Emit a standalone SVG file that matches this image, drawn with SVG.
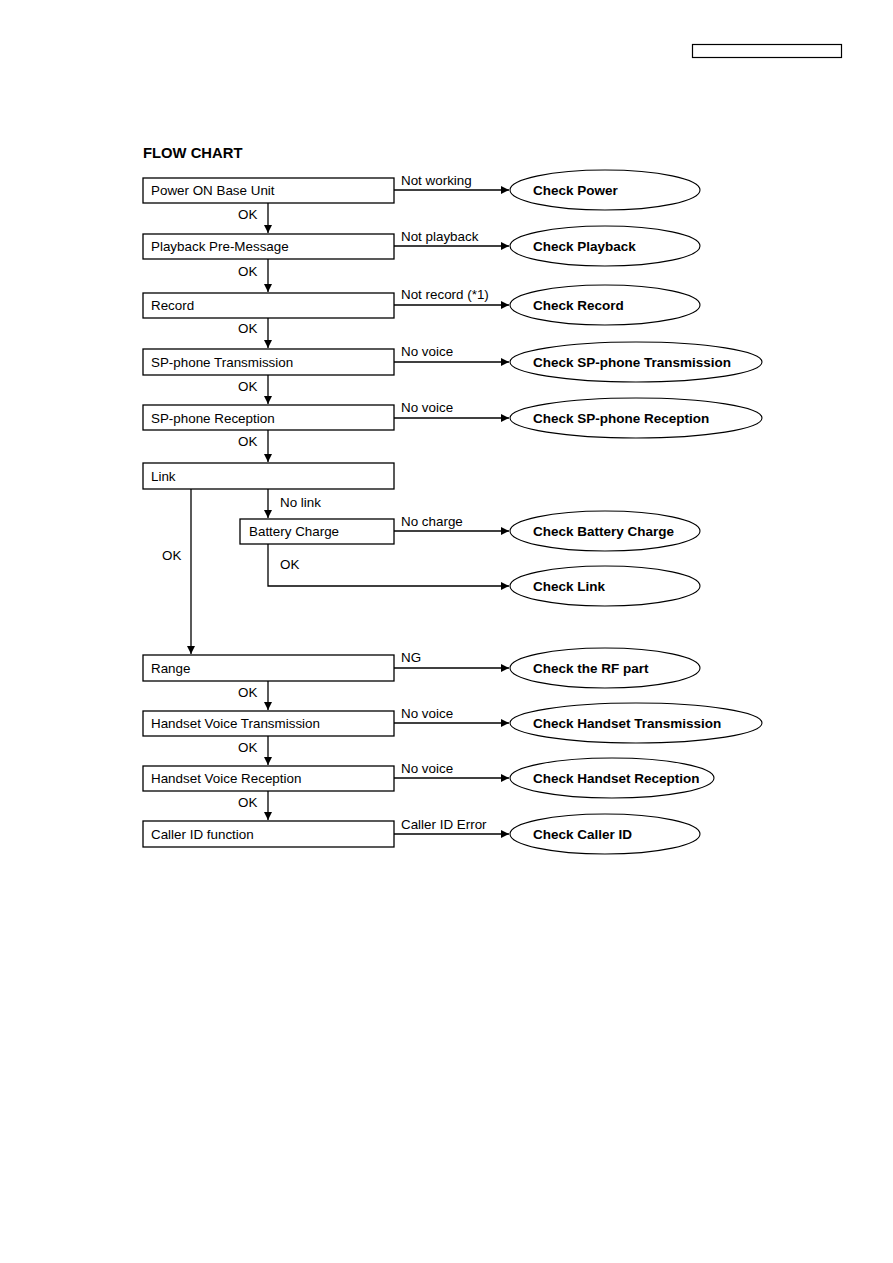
<svg xmlns="http://www.w3.org/2000/svg" width="893" height="1263" viewBox="0 0 893 1263">
<style>
.box{fill:#fff;stroke:#000;stroke-width:1.3}
.ell{fill:#fff;stroke:#000;stroke-width:1.1}
.t{font-family:"Liberation Sans",Arial,sans-serif;font-size:13.4px;fill:#000}
.b{font-family:"Liberation Sans",Arial,sans-serif;font-size:13.5px;font-weight:bold;fill:#000}
.ln{fill:none;stroke:#000;stroke-width:1.3}
</style>
<defs>
<marker id="ah" viewBox="0 0 10 10" refX="10" refY="5" markerWidth="8" markerHeight="8" markerUnits="userSpaceOnUse" orient="auto"><path d="M0,0 L10,5 L0,10 z" fill="#000"/></marker>
</defs>
<rect x="0" y="0" width="893" height="1263" fill="#fff"/>
<rect x="692.5" y="44.5" width="149" height="13" fill="none" stroke="#000" stroke-width="1.2"/>
<text x="143" y="158" class="b" style="font-size:14.8px">FLOW CHART</text>

<g id="connectors">
<path class="ln" d="M394,190 H509" marker-end="url(#ah)"/>
<path class="ln" d="M394,246 H509" marker-end="url(#ah)"/>
<path class="ln" d="M394,305 H509" marker-end="url(#ah)"/>
<path class="ln" d="M394,362 H509" marker-end="url(#ah)"/>
<path class="ln" d="M394,418 H509" marker-end="url(#ah)"/>
<path class="ln" d="M394,531 H509" marker-end="url(#ah)"/>
<path class="ln" d="M268,544 V586 H509" marker-end="url(#ah)"/>
<path class="ln" d="M394,668 H509" marker-end="url(#ah)"/>
<path class="ln" d="M394,723 H509" marker-end="url(#ah)"/>
<path class="ln" d="M394,778 H509" marker-end="url(#ah)"/>
<path class="ln" d="M394,834 H509" marker-end="url(#ah)"/>
<path class="ln" d="M268,203 V233" marker-end="url(#ah)"/>
<path class="ln" d="M268,259 V292" marker-end="url(#ah)"/>
<path class="ln" d="M268,318 V348" marker-end="url(#ah)"/>
<path class="ln" d="M268,375 V404" marker-end="url(#ah)"/>
<path class="ln" d="M268,430 V462" marker-end="url(#ah)"/>
<path class="ln" d="M268,489 V518" marker-end="url(#ah)"/>
<path class="ln" d="M191,489 V654" marker-end="url(#ah)"/>
<path class="ln" d="M268,681 V710" marker-end="url(#ah)"/>
<path class="ln" d="M268,736 V765" marker-end="url(#ah)"/>
<path class="ln" d="M268,791 V820" marker-end="url(#ah)"/>
<text x="401" y="185" class="t">Not working</text>
<text x="401" y="241" class="t">Not playback</text>
<text x="401" y="299" class="t">Not record (*1)</text>
<text x="401" y="356" class="t">No voice</text>
<text x="401" y="412" class="t">No voice</text>
<text x="401" y="526" class="t">No charge</text>
<text x="401" y="662" class="t">NG</text>
<text x="401" y="718" class="t">No voice</text>
<text x="401" y="773" class="t">No voice</text>
<text x="401" y="829" class="t">Caller ID Error</text>
<text x="238" y="219" class="t">OK</text>
<text x="238" y="276" class="t">OK</text>
<text x="238" y="333" class="t">OK</text>
<text x="238" y="391" class="t">OK</text>
<text x="238" y="446" class="t">OK</text>
<text x="280" y="507" class="t">No link</text>
<text x="280" y="569" class="t">OK</text>
<text x="162" y="560" class="t">OK</text>
<text x="238" y="697" class="t">OK</text>
<text x="238" y="752" class="t">OK</text>
<text x="238" y="807" class="t">OK</text>
</g>

<g id="n1"><rect class="box" x="143" y="178" width="251" height="25"/><text x="151" y="195" class="t">Power ON Base Unit</text></g>
<g id="n2"><rect class="box" x="143" y="234" width="251" height="25"/><text x="151" y="251" class="t">Playback Pre-Message</text></g>
<g id="n3"><rect class="box" x="143" y="293" width="251" height="25"/><text x="151" y="310" class="t">Record</text></g>
<g id="n4"><rect class="box" x="143" y="349" width="251" height="26"/><text x="151" y="367" class="t">SP-phone Transmission</text></g>
<g id="n5"><rect class="box" x="143" y="405" width="251" height="25"/><text x="151" y="423" class="t">SP-phone Reception</text></g>
<g id="n6"><rect class="box" x="143" y="463" width="251" height="26"/><text x="151" y="481" class="t">Link</text></g>
<g id="n7"><rect class="box" x="240" y="519" width="154" height="25"/><text x="249" y="536" class="t">Battery Charge</text></g>
<g id="n8"><rect class="box" x="143" y="655" width="251" height="26"/><text x="151" y="673" class="t">Range</text></g>
<g id="n9"><rect class="box" x="143" y="711" width="251" height="25"/><text x="151" y="728" class="t">Handset Voice Transmission</text></g>
<g id="n10"><rect class="box" x="143" y="766" width="251" height="25"/><text x="151" y="783" class="t">Handset Voice Reception</text></g>
<g id="n11"><rect class="box" x="143" y="821" width="251" height="26"/><text x="151" y="839" class="t">Caller ID function</text></g>

<g id="e1"><ellipse class="ell" cx="605" cy="190" rx="95" ry="20"/><text x="533" y="195" class="b">Check Power</text></g>
<g id="e2"><ellipse class="ell" cx="605" cy="246" rx="95" ry="20"/><text x="533" y="251" class="b">Check Playback</text></g>
<g id="e3"><ellipse class="ell" cx="605" cy="305" rx="95" ry="20"/><text x="533" y="310" class="b">Check Record</text></g>
<g id="e4"><ellipse class="ell" cx="636" cy="362" rx="126" ry="20"/><text x="533" y="367" class="b">Check SP-phone Transmission</text></g>
<g id="e5"><ellipse class="ell" cx="636" cy="418" rx="126" ry="20"/><text x="533" y="423" class="b">Check SP-phone Reception</text></g>
<g id="e6"><ellipse class="ell" cx="605" cy="531" rx="95" ry="20"/><text x="533" y="536" class="b">Check Battery Charge</text></g>
<g id="e7"><ellipse class="ell" cx="605" cy="586" rx="95" ry="20"/><text x="533" y="591" class="b">Check Link</text></g>
<g id="e8"><ellipse class="ell" cx="605" cy="668" rx="95" ry="20"/><text x="533" y="673" class="b">Check the RF part</text></g>
<g id="e9"><ellipse class="ell" cx="636" cy="723" rx="126" ry="20"/><text x="533" y="728" class="b">Check Handset Transmission</text></g>
<g id="e10"><ellipse class="ell" cx="612" cy="778" rx="102" ry="20"/><text x="533" y="783" class="b">Check Handset Reception</text></g>
<g id="e11"><ellipse class="ell" cx="605" cy="834" rx="95" ry="20"/><text x="533" y="839" class="b">Check Caller ID</text></g>
</svg>
